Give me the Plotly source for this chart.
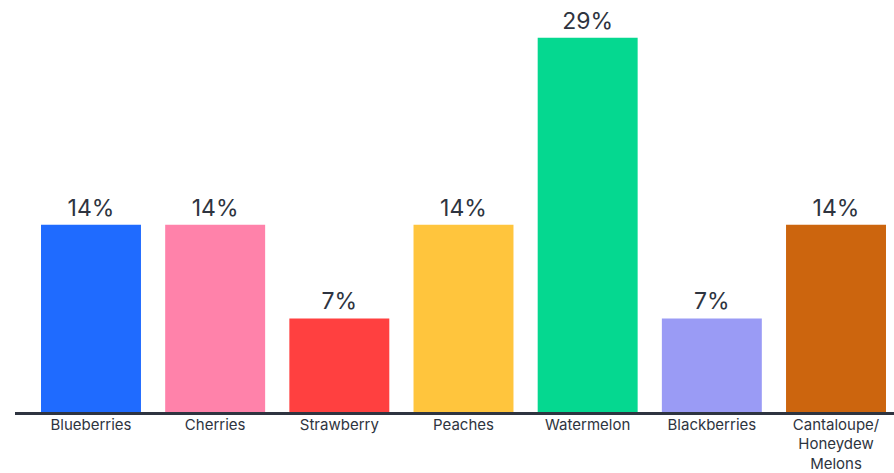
import plotly.graph_objects as go

categories = ["Blueberries", "Cherries", "Strawberry", "Peaches", "Watermelon",
              "Blackberries", "Cantaloupe/<br>Honeydew<br>Melons"]
values = [14.29, 14.29, 7.14, 14.29, 28.57, 7.14, 14.29]
colors = ["#1F6BFF", "#FF82AA", "#FF4040", "#FFC53D", "#05D890", "#9A9BF5", "#CC650E"]

fig = go.Figure(go.Bar(
    x=categories, y=values,
    marker=dict(color=colors, line=dict(width=0)),
    texttemplate="%{y:.0f}%", textposition="outside",
    textfont=dict(size=23, color="#2E3440", family="Inter"),
    cliponaxis=False,
    hoverinfo="skip",
))

fig.update_layout(
    width=894, height=473,
    margin=dict(l=15, r=0, t=19, b=61, autoexpand=False),
    paper_bgcolor="white", plot_bgcolor="white",
    bargap=0.195,
    showlegend=False,
    font=dict(family="Inter", color="#2E3440"),
)
fig.update_xaxes(
    range=[-0.612, 6.467], automargin=False,
    showline=True, linecolor="#2E3440", linewidth=2.5,
    showgrid=False, ticks="", tickfont=dict(size=15, color="#2E3440"),
    ticklabelstandoff=-3,
    fixedrange=True,
)
fig.update_yaxes(
    range=[0, 30], visible=False, showgrid=False, zeroline=False, fixedrange=True,
    automargin=False,
)

fig.write_html("out.html", config={"displayModeBar": False},
               post_script="document.body.style.margin='0';document.body.style.overflow='hidden';")
